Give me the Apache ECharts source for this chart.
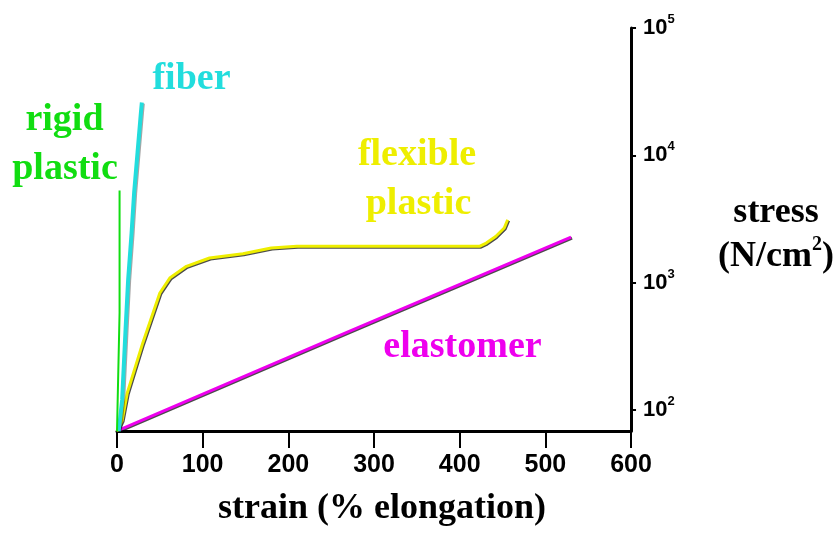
<!DOCTYPE html>
<html>
<head>
<meta charset="utf-8">
<script src="https://cdn.jsdelivr.net/npm/echarts@6/dist/echarts.min.js"></script>
<style>
  html, body { margin: 0; padding: 0; background: #fff; }
  #chart { width: 837px; height: 541px; }
</style>
</head>
<body>
<div id="chart"></div>
<script>
// Stress–strain curves for four polymer classes (strain in %, stress in N/cm², log scale)
const xTicks = [0, 100, 200, 300, 400, 500, 600];
const yTicks = [100, 1000, 10000, 100000];

const rigidPlastic = [[0, 68], [3, 580], [3, 5300]];
const fiber = [[2, 68], [6, 120], [10, 430], [13, 1050], [17, 2450], [20, 5100], [24, 10600], [28, 22000], [29, 26000]];
const flexiblePlastic = [[0, 68], [6, 83], [12, 136], [30, 335], [50, 830], [62, 1095], [81, 1343], [108, 1563],
  [147, 1687], [180, 1870], [210, 1930], [423, 1930], [431, 2047], [442, 2306], [452, 2687], [456, 3119]];
const elastomer = [[3.5, 70], [271, 415], [530, 2280]];

const curveNames = ['rigid plastic', 'fiber', 'flexible plastic', 'elastomer'];
const curveColors = ['#11dd11', '#22dddd', '#eeee00', '#ee00ee'];

const serif = '"Liberation Serif", "Times New Roman", serif';
const sans = '"Liberation Sans", Arial, sans-serif';

function curve(name, data, color, width, shadowAlpha) {
  return {
    name: name,
    type: 'line',
    data: data,
    showSymbol: false,
    symbol: 'none',
    lineStyle: {
      color: color,
      width: width,
      shadowColor: 'rgba(0,0,0,' + shadowAlpha + ')',
      shadowOffsetX: shadowAlpha ? 1 : 0,
      shadowOffsetY: shadowAlpha ? 1 : 0,
      shadowBlur: 0
    }
  };
}

function label(text, cx, y, color) {
  return {
    type: 'text',
    x: cx,
    y: y,
    style: {
      text: text,
      fill: color,
      font: 'bold 38px ' + serif,
      align: 'center',
      verticalAlign: 'middle',
      shadowColor: 'rgba(0,0,0,0.35)',
      shadowOffsetX: 1,
      shadowOffsetY: 1,
      shadowBlur: 0
    }
  };
}

const chart = echarts.init(document.getElementById('chart'));
chart.setOption({
  animation: false,
  backgroundColor: '#fff',
  grid: { left: 117, right: 204, top: 28, bottom: 110 },
  xAxis: {
    type: 'value',
    min: 0,
    max: 600,
    interval: 100,
    name: 'strain (% elongation)',
    nameLocation: 'middle',
    nameGap: 60,
    nameTextStyle: { fontFamily: serif, fontWeight: 'bold', fontSize: 36, color: '#000', padding: [0, 0, 0, 16] },
    axisLine: { onZero: false, lineStyle: { color: '#000', width: 3 } },
    axisTick: { length: 17, lineStyle: { color: '#000', width: 2 } },
    axisLabel: {
      margin: 22,
      fontFamily: sans,
      fontWeight: 'bold',
      fontSize: 25,
      color: '#000',
      customValues: xTicks
    },
    splitLine: { show: false }
  },
  yAxis: {
    type: 'log',
    logBase: 10,
    min: 68.4,
    max: 100000,
    position: 'right',
    name: '{n|stress}\n{n|(N/cm}{sup|2}{n|)}',
    nameLocation: 'middle',
    nameRotate: 0,
    nameGap: 145,
    nameTextStyle: {
      align: 'center',
      verticalAlign: 'middle',
      padding: [10, 0, 0, 0],
      rich: {
        n: { fontFamily: serif, fontWeight: 'bold', fontSize: 36, lineHeight: 44, color: '#000' },
        sup: { fontFamily: serif, fontWeight: 'bold', fontSize: 20, lineHeight: 34, verticalAlign: 'top', color: '#000' }
      }
    },
    axisLine: { show: true, onZero: false, lineStyle: { color: '#000', width: 3 } },
    axisTick: { show: true, length: 5, lineStyle: { color: '#000', width: 2 }, customValues: yTicks },
    axisLabel: {
      margin: 12,
      customValues: yTicks,
      formatter: function (v) {
        return '{b|10}{s|' + Math.round(Math.log10(v)) + '}';
      },
      rich: {
        b: { fontFamily: sans, fontWeight: 'bold', fontSize: 22, lineHeight: 30, color: '#000' },
        s: { fontFamily: sans, fontWeight: 'bold', fontSize: 13, lineHeight: 13, verticalAlign: 'top', color: '#000' }
      }
    },
    splitLine: { show: false }
  },
  series: [
    curve(curveNames[3], elastomer, curveColors[3], 3, 0.7),
    curve(curveNames[2], flexiblePlastic, curveColors[2], 3, 0.7),
    curve(curveNames[1], fiber, curveColors[1], 4, 0.35),
    curve(curveNames[0], rigidPlastic, curveColors[0], 2, 0)
  ],
  graphic: [
    label('rigid', 64.5, 120, curveColors[0]),
    label('plastic', 65, 169, curveColors[0]),
    label('fiber', 191.5, 79, curveColors[1]),
    label('flexible', 417, 155, curveColors[2]),
    label('plastic', 418.5, 204, curveColors[2]),
    label('elastomer', 462.5, 347, curveColors[3])
  ]
});
</script>
</body>
</html>
